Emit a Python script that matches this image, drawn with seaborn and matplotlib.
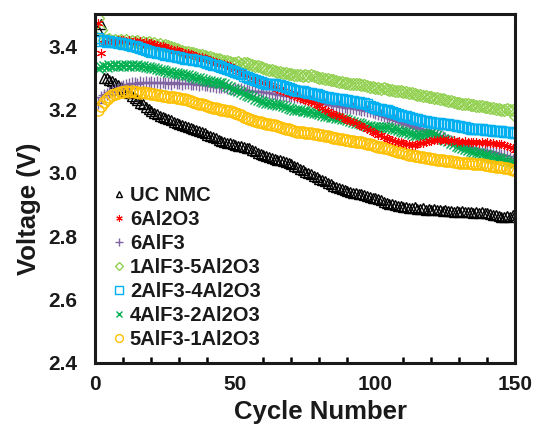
import numpy as np
import pandas as pd
import matplotlib
matplotlib.use("Agg")
import matplotlib.pyplot as plt
import seaborn as sns
from matplotlib.ticker import MultipleLocator

cycles = list(range(1, 151))

uc_nmc = [
    3.450, 3.470, 3.300, 3.298, 3.293, 3.290, 3.283, 3.278, 3.270, 3.266,
    3.258, 3.252, 3.244, 3.236, 3.230, 3.222, 3.216, 3.208, 3.202, 3.195,
    3.190, 3.185, 3.181, 3.176, 3.172, 3.169, 3.166, 3.162, 3.158, 3.155,
    3.151, 3.148, 3.145, 3.142, 3.138, 3.135, 3.131, 3.128, 3.125, 3.120,
    3.117, 3.113, 3.109, 3.105, 3.100, 3.098, 3.095, 3.093, 3.090, 3.088,
    3.086, 3.084, 3.082, 3.080, 3.077, 3.072, 3.068, 3.064, 3.060, 3.056,
    3.054, 3.051, 3.048, 3.045, 3.042, 3.040, 3.037, 3.034, 3.030, 3.027,
    3.022, 3.018, 3.013, 3.008, 3.003, 2.999, 2.995, 2.990, 2.986, 2.981,
    2.977, 2.973, 2.968, 2.964, 2.960, 2.956, 2.952, 2.949, 2.946, 2.943,
    2.940, 2.938, 2.936, 2.934, 2.932, 2.930, 2.928, 2.925, 2.922, 2.920,
    2.916, 2.913, 2.909, 2.905, 2.903, 2.901, 2.899, 2.897, 2.894, 2.892,
    2.893, 2.890, 2.888, 2.891, 2.887, 2.885, 2.888, 2.884, 2.886, 2.883,
    2.885, 2.882, 2.883, 2.880, 2.883, 2.879, 2.881, 2.878, 2.880, 2.877,
    2.879, 2.876, 2.878, 2.876, 2.874, 2.877, 2.873, 2.875, 2.872, 2.873,
    2.870, 2.868, 2.866, 2.864, 2.862, 2.860, 2.864, 2.862, 2.866, 2.867,
]

al2o3_6 = [
    3.473, 3.378, 3.410, 3.414, 3.412, 3.418, 3.415, 3.420, 3.418, 3.421,
    3.417, 3.419, 3.414, 3.416, 3.413, 3.415, 3.411, 3.413, 3.409, 3.411,
    3.408, 3.405, 3.402, 3.400, 3.397, 3.394, 3.392, 3.389, 3.387, 3.384,
    3.382, 3.379, 3.377, 3.375, 3.372, 3.370, 3.367, 3.365, 3.362, 3.359,
    3.357, 3.354, 3.351, 3.348, 3.345, 3.343, 3.340, 3.336, 3.331, 3.327,
    3.322, 3.318, 3.313, 3.309, 3.305, 3.301, 3.297, 3.293, 3.288, 3.283,
    3.280, 3.277, 3.273, 3.270, 3.266, 3.263, 3.259, 3.256, 3.252, 3.248,
    3.244, 3.240, 3.237, 3.233, 3.230, 3.227, 3.223, 3.220, 3.215, 3.210,
    3.205, 3.200, 3.195, 3.190, 3.186, 3.182, 3.178, 3.175, 3.171, 3.167,
    3.163, 3.160, 3.156, 3.152, 3.149, 3.145, 3.140, 3.135, 3.130, 3.125,
    3.121, 3.118, 3.114, 3.110, 3.107, 3.104, 3.101, 3.099, 3.096, 3.094,
    3.091, 3.090, 3.088, 3.089, 3.091, 3.093, 3.095, 3.097, 3.100, 3.102,
    3.104, 3.105, 3.103, 3.106, 3.102, 3.104, 3.100, 3.103, 3.099, 3.101,
    3.098, 3.100, 3.097, 3.099, 3.096, 3.098, 3.095, 3.097, 3.094, 3.096,
    3.093, 3.095, 3.092, 3.090, 3.091, 3.088, 3.086, 3.083, 3.078, 3.072,
]

alf3_6 = [
    3.220, 3.240, 3.245, 3.250, 3.254, 3.258, 3.262, 3.266, 3.270, 3.274,
    3.278, 3.281, 3.283, 3.285, 3.282, 3.286, 3.283, 3.287, 3.284, 3.286,
    3.283, 3.286, 3.284, 3.287, 3.283, 3.285, 3.282, 3.286, 3.283, 3.285,
    3.282, 3.284, 3.283, 3.281, 3.280, 3.281, 3.278, 3.279, 3.276, 3.277,
    3.274, 3.275, 3.272, 3.272, 3.270, 3.270, 3.268, 3.268, 3.266, 3.265,
    3.264, 3.264, 3.262, 3.262, 3.260, 3.260, 3.258, 3.258, 3.256, 3.255,
    3.254, 3.252, 3.251, 3.250, 3.248, 3.247, 3.246, 3.244, 3.243, 3.242,
    3.241, 3.240, 3.237, 3.235, 3.233, 3.231, 3.228, 3.226, 3.224, 3.222,
    3.220, 3.218, 3.216, 3.214, 3.213, 3.212, 3.210, 3.209, 3.208, 3.206,
    3.205, 3.204, 3.202, 3.201, 3.200, 3.198, 3.196, 3.195, 3.193, 3.190,
    3.187, 3.183, 3.180, 3.176, 3.173, 3.170, 3.167, 3.164, 3.160, 3.157,
    3.154, 3.151, 3.149, 3.146, 3.143, 3.140, 3.137, 3.133, 3.130, 3.127,
    3.123, 3.120, 3.116, 3.112, 3.108, 3.104, 3.100, 3.097, 3.094, 3.091,
    3.088, 3.086, 3.083, 3.080, 3.078, 3.076, 3.075, 3.073, 3.071, 3.070,
    3.068, 3.065, 3.063, 3.061, 3.058, 3.056, 3.052, 3.047, 3.042, 3.038,
]

alf3_1_al2o3_5 = [
    3.490, 3.450, 3.420, 3.418, 3.422, 3.416, 3.420, 3.415, 3.419, 3.414,
    3.418, 3.413, 3.417, 3.412, 3.415, 3.411, 3.414, 3.409, 3.412, 3.407,
    3.410, 3.405, 3.407, 3.402, 3.404, 3.399, 3.397, 3.393, 3.390, 3.387,
    3.385, 3.382, 3.380, 3.378, 3.377, 3.375, 3.373, 3.372, 3.370, 3.367,
    3.366, 3.363, 3.361, 3.358, 3.356, 3.354, 3.352, 3.350, 3.348, 3.346,
    3.349, 3.345, 3.348, 3.346, 3.343, 3.341, 3.338, 3.336, 3.333, 3.330,
    3.328, 3.326, 3.324, 3.322, 3.320, 3.318, 3.316, 3.315, 3.313, 3.311,
    3.310, 3.308, 3.310, 3.307, 3.309, 3.306, 3.308, 3.305, 3.303, 3.300,
    3.298, 3.296, 3.295, 3.293, 3.292, 3.290, 3.288, 3.287, 3.285, 3.283,
    3.282, 3.281, 3.280, 3.279, 3.278, 3.277, 3.274, 3.272, 3.270, 3.267,
    3.268, 3.266, 3.267, 3.265, 3.263, 3.262, 3.260, 3.259, 3.257, 3.255,
    3.254, 3.252, 3.251, 3.249, 3.247, 3.245, 3.244, 3.242, 3.240, 3.239,
    3.237, 3.236, 3.234, 3.232, 3.230, 3.228, 3.226, 3.223, 3.222, 3.220,
    3.219, 3.217, 3.216, 3.214, 3.213, 3.212, 3.211, 3.210, 3.209, 3.208,
    3.206, 3.205, 3.203, 3.202, 3.200, 3.198, 3.202, 3.199, 3.200, 3.178,
]

alf3_2_al2o3_4 = [
    3.425, 3.415, 3.418, 3.414, 3.416, 3.412, 3.414, 3.410, 3.411, 3.408,
    3.406, 3.404, 3.402, 3.399, 3.397, 3.394, 3.391, 3.388, 3.385, 3.382,
    3.380, 3.378, 3.377, 3.375, 3.373, 3.371, 3.370, 3.368, 3.366, 3.365,
    3.363, 3.361, 3.360, 3.358, 3.357, 3.355, 3.353, 3.352, 3.350, 3.347,
    3.345, 3.342, 3.340, 3.337, 3.334, 3.331, 3.328, 3.325, 3.321, 3.318,
    3.314, 3.311, 3.307, 3.304, 3.300, 3.297, 3.294, 3.290, 3.287, 3.283,
    3.282, 3.281, 3.280, 3.279, 3.278, 3.277, 3.274, 3.271, 3.268, 3.266,
    3.263, 3.260, 3.258, 3.257, 3.255, 3.253, 3.252, 3.250, 3.248, 3.245,
    3.243, 3.240, 3.238, 3.236, 3.235, 3.234, 3.233, 3.232, 3.231, 3.230,
    3.228, 3.226, 3.225, 3.223, 3.221, 3.220, 3.216, 3.212, 3.208, 3.204,
    3.203, 3.201, 3.200, 3.198, 3.195, 3.192, 3.189, 3.186, 3.183, 3.180,
    3.178, 3.176, 3.174, 3.171, 3.169, 3.167, 3.165, 3.164, 3.162, 3.160,
    3.158, 3.157, 3.156, 3.155, 3.154, 3.153, 3.152, 3.150, 3.148, 3.147,
    3.145, 3.144, 3.142, 3.140, 3.140, 3.139, 3.138, 3.137, 3.136, 3.135,
    3.134, 3.133, 3.133, 3.132, 3.131, 3.130, 3.129, 3.128, 3.127, 3.125,
]

alf3_4_al2o3_2 = [
    3.330, 3.335, 3.338, 3.334, 3.339, 3.336, 3.341, 3.337, 3.340, 3.338,
    3.342, 3.338, 3.341, 3.337, 3.340, 3.336, 3.337, 3.333, 3.334, 3.331,
    3.330, 3.328, 3.326, 3.324, 3.322, 3.320, 3.318, 3.316, 3.315, 3.313,
    3.311, 3.310, 3.308, 3.305, 3.303, 3.300, 3.298, 3.295, 3.293, 3.291,
    3.290, 3.288, 3.286, 3.285, 3.283, 3.279, 3.275, 3.270, 3.266, 3.262,
    3.258, 3.254, 3.250, 3.246, 3.242, 3.238, 3.234, 3.230, 3.227, 3.223,
    3.221, 3.220, 3.218, 3.217, 3.215, 3.214, 3.211, 3.208, 3.206, 3.203,
    3.200, 3.198, 3.197, 3.196, 3.194, 3.193, 3.191, 3.190, 3.188, 3.185,
    3.183, 3.181, 3.178, 3.176, 3.175, 3.173, 3.172, 3.170, 3.169, 3.167,
    3.164, 3.161, 3.158, 3.156, 3.153, 3.150, 3.149, 3.148, 3.146, 3.145,
    3.146, 3.144, 3.146, 3.145, 3.142, 3.140, 3.137, 3.135, 3.132, 3.130,
    3.128, 3.126, 3.124, 3.121, 3.119, 3.118, 3.120, 3.122, 3.124, 3.125,
    3.122, 3.118, 3.114, 3.108, 3.104, 3.100, 3.095, 3.090, 3.086, 3.083,
    3.079, 3.076, 3.072, 3.068, 3.066, 3.064, 3.062, 3.060, 3.058, 3.056,
    3.053, 3.051, 3.048, 3.046, 3.043, 3.040, 3.038, 3.035, 3.033, 3.030,
]

alf3_5_al2o3_1 = [
    3.198, 3.212, 3.224, 3.234, 3.240, 3.245, 3.250, 3.252, 3.254, 3.255,
    3.257, 3.254, 3.258, 3.255, 3.256, 3.253, 3.254, 3.251, 3.252, 3.249,
    3.250, 3.247, 3.246, 3.244, 3.243, 3.241, 3.240, 3.238, 3.237, 3.235,
    3.233, 3.232, 3.230, 3.227, 3.225, 3.222, 3.219, 3.217, 3.214, 3.211,
    3.209, 3.206, 3.204, 3.201, 3.198, 3.197, 3.196, 3.194, 3.192, 3.190,
    3.186, 3.182, 3.177, 3.173, 3.170, 3.168, 3.165, 3.162, 3.160, 3.157,
    3.155, 3.154, 3.152, 3.150, 3.147, 3.145, 3.142, 3.140, 3.137, 3.135,
    3.132, 3.130, 3.129, 3.128, 3.127, 3.126, 3.125, 3.124, 3.122, 3.120,
    3.118, 3.116, 3.115, 3.113, 3.111, 3.110, 3.108, 3.106, 3.105, 3.103,
    3.102, 3.100, 3.099, 3.097, 3.096, 3.094, 3.092, 3.090, 3.087, 3.085,
    3.083, 3.081, 3.080, 3.078, 3.075, 3.073, 3.070, 3.067, 3.065, 3.062,
    3.060, 3.058, 3.056, 3.054, 3.052, 3.050, 3.049, 3.047, 3.046, 3.045,
    3.044, 3.042, 3.041, 3.040, 3.039, 3.037, 3.036, 3.034, 3.033, 3.032,
    3.032, 3.031, 3.030, 3.030, 3.029, 3.028, 3.027, 3.027, 3.026, 3.025,
    3.023, 3.022, 3.020, 3.019, 3.017, 3.015, 3.014, 3.012, 3.010, 3.008,
]

series_names = ["UC NMC", "6Al2O3", "6AlF3", "1AlF3-5Al2O3",
                "2AlF3-4Al2O3", "4AlF3-2Al2O3", "5AlF3-1Al2O3"]
series_values = [uc_nmc, al2o3_6, alf3_6, alf3_1_al2o3_5,
                 alf3_2_al2o3_4, alf3_4_al2o3_2, alf3_5_al2o3_1]
colors = ["#000000", "#FF0000", "#8064A2", "#92D050",
          "#00B0F0", "#00B050", "#FFC000"]
markers = ["^", (6, 2, 0), "+", "D", "s", "x", "o"]
msizes = [7.0, 6.5, 8.0, 6.5, 7.5, 7.0, 8.0]
mews = [1.0, 0.8, 1.0, 1.0, 1.0, 1.0, 1.0]
filled = [True, False, False, True, True, False, True]
zorders = [2, 7.5, 3, 7, 8, 4, 6]

sns.set_theme(style="white")
plt.rcParams["font.family"] = ["Liberation Sans", "DejaVu Sans"]
plt.rcParams["font.weight"] = "bold"

fig = plt.figure(figsize=(5.33, 4.26), dpi=100)
ax = fig.add_axes([0.179, 0.148, 0.788, 0.818])

for name, vals, col, mk, ms, mw, fl, zo in zip(series_names, series_values,
                                               colors, markers, msizes, mews,
                                               filled, zorders):
    df = pd.DataFrame({"Cycle": cycles[:len(vals)], "Voltage": vals})
    kw = dict(marker=mk, markersize=ms, linestyle="", color=col,
              markeredgecolor=col, markeredgewidth=mw, zorder=zo)
    if fl:
        kw["markerfacecolor"] = "none"
    sns.lineplot(data=df, x="Cycle", y="Voltage", ax=ax, label=name,
                 errorbar=None, sort=False, **kw)

ax.set_xlim(0, 150)
ax.set_ylim(2.4, 3.5)
ax.xaxis.set_major_locator(MultipleLocator(50))
ax.xaxis.set_minor_locator(MultipleLocator(10))
ax.set_yticks([2.4, 2.6, 2.8, 3.0, 3.2, 3.4])
ax.set_yticklabels(["2.4", "2.6", "2.8", "3.0", "3.2", "3.4"])

ax.tick_params(axis="both", which="both", direction="in", top=False,
               right=False, color="black", width=1.8)
ax.tick_params(axis="x", which="major", length=6, pad=9, labelsize=15)
ax.tick_params(axis="x", which="minor", length=4, bottom=True)
ax.tick_params(axis="y", which="major", length=5, pad=13, labelsize=15)
for lab in ax.get_xticklabels() + ax.get_yticklabels():
    lab.set_fontweight("bold")
    lab.set_color("#1a1a1a")

for sp in ax.spines.values():
    sp.set_visible(True)
    sp.set_color("#1a1a1a")
    sp.set_linewidth(2.2)
    sp.set_zorder(10)

ax.set_xlabel("Cycle Number", fontsize=18.5, fontweight="bold",
              color="#1a1a1a")
ax.set_ylabel("Voltage (V)", fontsize=18.5, fontweight="bold",
              color="#1a1a1a")
ax.xaxis.set_label_coords(0.535, -0.106)
ax.yaxis.set_label_coords(-0.13, 0.442)

leg = ax.legend(loc="upper left", bbox_to_anchor=(0.045, 0.507),
                frameon=False, fontsize=14.5, handlelength=0.45,
                handletextpad=0.32, labelspacing=0.25, borderpad=0,
                borderaxespad=0, markerscale=0.7)
for t in leg.get_texts():
    t.set_fontweight("bold")
    t.set_color("#1a1a1a")

fig.savefig("out.png", dpi=100)
